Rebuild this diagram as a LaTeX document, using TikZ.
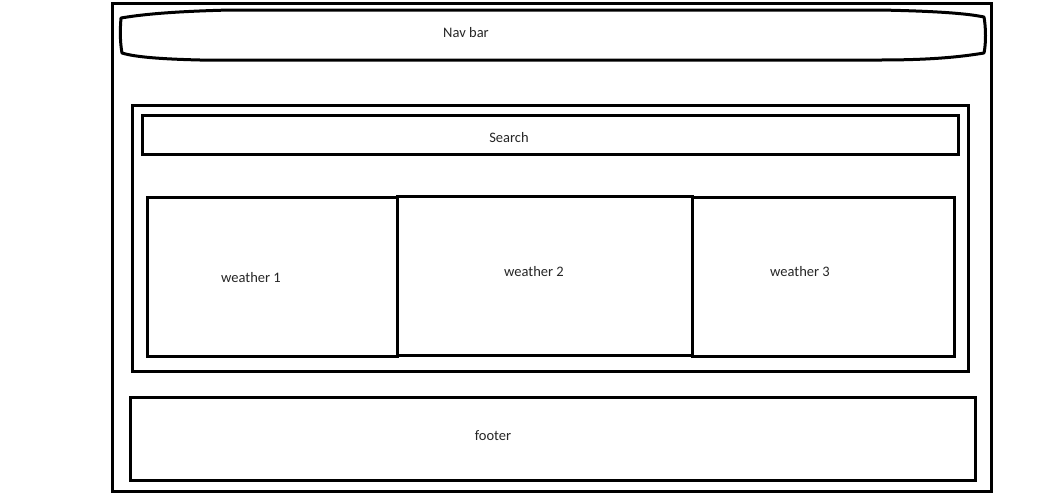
\documentclass[tikz,border=0pt]{standalone}
\usepackage{fontspec}
\setmainfont{Carlito}
\begin{document}
\begin{tikzpicture}[x=1pt,y=-1pt,
  box/.style={draw=black,line width=3pt,inner sep=0pt,outer sep=0pt,fill=none},
  lbl/.style={inner sep=0pt,font=\fontsize{14.5}{17}\selectfont,text=black!85}]
\useasboundingbox (0,0) rectangle (1045,496);
\fill[white] (0,0) rectangle (1045,496);
% outer frame
\node[box,minimum width=879pt,minimum height=488pt] (page) at (552,247) {};
% nav bar
\draw[line width=3pt,line join=round] (121,18) .. controls (150,13) and (190,11) .. (230,10)
  -- (880,10) .. controls (930,11) and (965,13) .. (984,17)
  .. controls (986,28) and (986,44) .. (984,53)
  .. controls (960,57) and (930,60) .. (880,60)
  -- (200,60) .. controls (160,59) and (135,57) .. (122,53)
  .. controls (120,42) and (120,30) .. cycle;
\node[lbl] (nav) at (466,33) {Nav bar};
% main container
\node[box,minimum width=836pt,minimum height=266pt] (main) at (550,238.5) {};
\node[box,minimum width=816pt,minimum height=39pt] (search) at (550,134.5) {};
\node[lbl] (searcht) at (509,138) {Search};
% weather boxes
\node[box,minimum width=250pt,minimum height=159pt] (w1) at (272,276.5) {};
\node[box,minimum width=262pt,minimum height=159pt] (w3) at (823,276.5) {};
\node[box,minimum width=295pt,minimum height=159pt] (w2) at (544.5,275.5) {};
\node[lbl] (w1t) at (251,278) {weather 1};
\node[lbl] (w2t) at (534,272) {weather 2};
\node[lbl] (w3t) at (800,272) {weather 3};
% footer
\node[box,minimum width=845pt,minimum height=83pt] (footer) at (552.5,438.5) {};
\node[lbl] (footert) at (493,436) {footer};
\end{tikzpicture}
\end{document}
